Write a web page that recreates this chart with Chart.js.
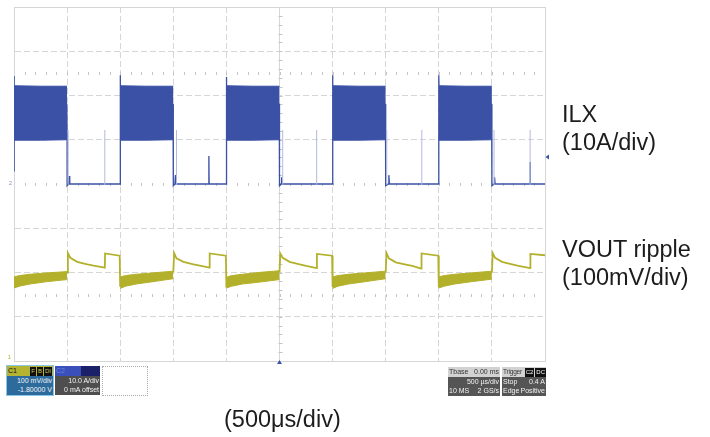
<!DOCTYPE html>
<html>
<head>
<meta charset="utf-8">
<script src="https://cdn.jsdelivr.net/npm/chart.js@4.4.0/dist/chart.umd.min.js"></script>
<style>
  body { margin: 0; background: #fff; font-family: "Liberation Sans", Arial, sans-serif; }
  #page { position: relative; width: 710px; height: 437px; overflow: hidden; }
  #scope { position: absolute; left: 0; top: 0; }
  .lbl { position: absolute; font-size: 23.5px; line-height: 28px; color: #1c1c1c; white-space: nowrap; }
  .box { position: absolute; font-family: "Liberation Sans Narrow", "Liberation Sans", sans-serif;
         font-size: 7px; line-height: 9px; color: #f4f4f4; overflow: hidden; white-space: nowrap; }
  .hd { height: 10px; line-height: 10px; padding: 0 1px; position: relative; }
  .row { height: 9px; padding: 0 1px; display: flex; justify-content: space-between; }
  .r { text-align: right; padding: 0 1px; height: 9px; }
  .tag { display: inline-block; background: #111; padding: 0 1px; margin-left: 1px; line-height: 9px; font-size: 6px; }
</style>
</head>
<body>
<div id="page">
  <canvas id="scope" width="710" height="437"></canvas>

  <div class="lbl" style="left:562px; top:100px;">ILX<br>(10A/div)</div>
  <div class="lbl" style="left:562px; top:235px;">VOUT ripple<br>(100mV/div)</div>
  <div class="lbl" style="left:224px; top:405px;">(500μs/div)</div>

  <div class="box" style="left:7px; top:366px; width:46px; height:29px; background:#2c6b9c; outline:1px solid #8cc6e6;">
    <div class="hd" style="background:#b4b332; color:#111;">C1<span style="position:absolute; right:1px; top:0; color:#c9c85a;"><span class="tag">F</span><span class="tag">B</span><span class="tag">DI</span></span></div>
    <div class="r">100 mV/div</div>
    <div class="r">-1.80000 V</div>
  </div>
  <div class="box" style="left:55px; top:366px; width:45px; height:29px; background:#4e4e4e;">
    <div class="hd" style="background:#3b4fba; color:#6f80dc;">C2<span style="position:absolute; right:0; top:0; width:19px; height:10px; background:#1b2168;"></span></div>
    <div class="r">10.0 A/div</div>
    <div class="r">0 mA offset</div>
  </div>
  <div class="box" style="left:102px; top:366px; width:44px; height:28px; border:1px dotted #aaa;"></div>

  <div class="box" style="left:448px; top:367px; width:52px; height:29px; background:#555;">
    <div class="hd" style="background:#d2d2d2; color:#333; display:flex; justify-content:space-between;"><span>Tbase</span><span>0.00 ms</span></div>
    <div class="r">500 µs/div</div>
    <div class="row"><span>10 MS</span><span>2 GS/s</span></div>
  </div>
  <div class="box" style="left:502px; top:367px; width:44px; height:29px; background:#555;">
    <div class="hd" style="background:#d2d2d2; color:#333; font-size:6.5px; letter-spacing:-0.2px;">Trigger<span style="position:absolute; right:0; top:0; color:#fff; letter-spacing:0;"><span class="tag">C2</span><span class="tag">DC</span></span></div>
    <div class="row"><span>Stop</span><span>0.4 A</span></div>
    <div class="row"><span>Edge</span><span>Positive</span></div>
  </div>
</div>

<script>
// screen units: x in divisions (0..10, 500 us/div), y in divisions (0 = bottom, 8 = top)
const xDivs = 10;
const yDivs = 8;
const minorTickRows = [6.5, 4, 1.5];

// ILX trace (blue)
const ilxT = [0, 0, 0.005, 0.995, 1.0, 1.0, 1.03, 1.04, 1.05, 2.0,
              2.0, 2.005, 2.995, 3.0, 3.0, 3.03, 3.04, 3.05, 3.67, 3.67, 3.675, 4.0,
              4.0, 4.005, 4.995, 5.0, 5.0, 5.03, 5.04, 5.05, 6.0,
              6.0, 6.005, 6.995, 7.0, 7.0, 7.05, 7.06, 7.07, 8.0,
              8.0, 8.005, 8.995, 9.0, 9.0, 9.04, 9.05, 9.06, 9.72, 9.72, 9.725, 10];
const ilxV = [4.3, 6.44, 6.1, 5.8, 5.0, 3.96, 4.0, 4.18, 4.0, 4.0,
              6.46, 6.1, 5.8, 5.0, 3.96, 4.0, 4.2, 4.0, 4.0, 4.63, 4.0, 4.0,
              6.42, 6.1, 5.8, 5.0, 3.96, 4.0, 4.15, 4.0, 4.0,
              6.46, 6.1, 5.8, 5.0, 3.96, 4.0, 4.2, 4.0, 4.0,
              6.46, 6.1, 5.8, 5.0, 3.96, 4.0, 4.15, 4.0, 4.0, 4.5, 4.0, 4.0];

// ILX switching band (filled between top and bottom), null = gap
const ilxBandT      = [0, 0.5, 1, 1.5, 2, 2.5, 3, 3.5, 4, 4.5, 5, 5.5, 6, 6.5, 7, 7.5, 8, 8.5, 9];
const ilxBandTop    = [6.22, 6.21, 6.21, null, 6.22, 6.21, 6.21, null, 6.22, 6.21, 6.21, null, 6.22, 6.21, 6.21, null, 6.22, 6.21, 6.21];
const ilxBandBottom = [4.99, 4.99, 5.0, null, 4.99, 4.99, 5.0, null, 4.99, 4.99, 5.0, null, 4.99, 4.99, 5.0, null, 4.99, 4.99, 5.0];

// faint ringing spikes during the off time
const ilxSpikeT   = [1.02, 1.71, 3.06, 5.06, 5.70, 7.02, 7.68, 9.04, 9.72];
const ilxSpikeTop = [5.22, 5.22, 5.22, 5.22, 5.22, 5.22, 5.22, 5.22, 5.22];

// VOUT ripple band while ILX is switching (yellow)
const voutBandT = [0, 0.1, 0.3, 0.6, 1.0, 1.5,
                   2.0, 2.1, 2.3, 2.6, 3.0, 3.5,
                   4.0, 4.1, 4.3, 4.6, 5.0, 5.5,
                   6.0, 6.1, 6.3, 6.6, 7.0, 7.5,
                   8.0, 8.1, 8.3, 8.6, 9.0];
const voutBandTop = [1.90, 1.93, 1.96, 1.99, 2.02, null,
                     1.90, 1.93, 1.96, 1.99, 2.03, null,
                     1.89, 1.93, 1.96, 2.00, 2.04, null,
                     1.90, 1.93, 1.96, 1.99, 2.03, null,
                     1.90, 1.93, 1.96, 1.99, 2.03];
const voutBandBottom = [1.65, 1.69, 1.74, 1.79, 1.84, null,
                        1.64, 1.69, 1.74, 1.79, 1.86, null,
                        1.65, 1.69, 1.74, 1.78, 1.84, null,
                        1.64, 1.69, 1.74, 1.79, 1.86, null,
                        1.65, 1.69, 1.74, 1.79, 1.85];

// VOUT during the off time: overshoot, decay, step
const voutT = [1.0, 1.015, 1.06, 1.19, 1.38, 1.5, 1.71, 1.715, 1.99, 2.0, null,
               3.0, 3.015, 3.06, 3.19, 3.38, 3.5, 3.68, 3.685, 3.99, 4.0, null,
               5.0, 5.015, 5.06, 5.19, 5.38, 5.5, 5.70, 5.705, 5.99, 6.0, null,
               7.0, 7.015, 7.06, 7.19, 7.38, 7.5, 7.67, 7.675, 7.99, 8.0, null,
               9.0, 9.015, 9.06, 9.19, 9.38, 9.5, 9.72, 9.725, 10];
const voutV = [2.0, 2.44, 2.33, 2.24, 2.185, 2.155, 2.11, 2.43, 2.38, 1.68, null,
               2.0, 2.44, 2.32, 2.24, 2.185, 2.155, 2.11, 2.43, 2.38, 1.66, null,
               2.0, 2.43, 2.33, 2.24, 2.185, 2.15, 2.10, 2.42, 2.38, 1.67, null,
               2.0, 2.44, 2.32, 2.23, 2.18, 2.15, 2.09, 2.43, 2.38, 1.66, null,
               2.0, 2.44, 2.33, 2.24, 2.185, 2.15, 2.10, 2.42, 2.39];

const trigLevel = 4.61;

const BLUE = "#3a51a5";
const YELLOW = "#b3b12b";

function pts(ts, vs) {
  return ts.map((t, i) => ({ x: t === null ? (ts[i - 1] + 0.001) : t, y: vs[i] }));
}
const spikePts = [];
ilxSpikeT.forEach((t, i) => {
  spikePts.push({ x: t, y: 3.98 }, { x: t, y: ilxSpikeTop[i] }, { x: t + 0.0001, y: null });
});

const scopeMarks = {
  id: "scopeMarks",
  beforeDatasetsDraw(chart) {
    const { ctx, scales: { x, y } } = chart;
    ctx.save();
    ctx.strokeStyle = "#c4c4c4";
    ctx.lineWidth = 1;
    ctx.beginPath();
    minorTickRows.forEach(row => {
      const py = Math.round(y.getPixelForValue(row)) + 0.5;
      for (let i = 1; i < xDivs * 5; i++) {
        const px = Math.round(x.getPixelForValue(i / 5)) + 0.5;
        ctx.moveTo(px, py - 1.5); ctx.lineTo(px, py + 1.5);
      }
    });
    const cx = Math.round(x.getPixelForValue(xDivs / 2)) + 0.5;
    for (let i = 1; i < yDivs * 5; i++) {
      const py = Math.round(y.getPixelForValue(i / 5)) + 0.5;
      ctx.moveTo(cx - 2, py); ctx.lineTo(cx + 2, py);
    }
    ctx.stroke();
    ctx.restore();
  },
  afterDatasetsDraw(chart) {
    const { ctx, scales: { x, y } } = chart;
    ctx.save();
    // trigger level arrow (right edge)
    const ty = y.getPixelForValue(trigLevel);
    const rx = x.getPixelForValue(xDivs);
    ctx.fillStyle = BLUE;
    ctx.beginPath();
    ctx.moveTo(rx + 0.5, ty); ctx.lineTo(rx + 4, ty - 2.5); ctx.lineTo(rx + 4, ty + 2.5);
    ctx.fill();
    // trigger time marker (bottom)
    const bx = x.getPixelForValue(xDivs / 2);
    const by = y.getPixelForValue(0);
    ctx.beginPath();
    ctx.moveTo(bx, by - 1); ctx.lineTo(bx - 2.5, by + 3); ctx.lineTo(bx + 2.5, by + 3);
    ctx.fill();
    // channel ground markers (left edge)
    ctx.font = "6px 'Liberation Sans'";
    ctx.textAlign = "right";
    ctx.textBaseline = "middle";
    ctx.fillStyle = "#8a93c8";
    ctx.fillText("2", x.getPixelForValue(0) - 2, y.getPixelForValue(4) - 1);
    ctx.fillStyle = YELLOW;
    ctx.fillText("1", x.getPixelForValue(0) - 3, y.getPixelForValue(0.08));
    ctx.restore();
  }
};

function dashFor(max, center) {
  return c => {
    if (!c.tick) return [];
    const v = c.tick.value;
    return (v === 0 || v === max || v === center) ? [] : [6, 3];
  };
}

new Chart(document.getElementById("scope").getContext("2d"), {
  type: "line",
  data: {
    datasets: [
      { label: "ILX band top", data: pts(ilxBandT, ilxBandTop), borderColor: BLUE, backgroundColor: BLUE,
        borderWidth: 1, fill: "+1", spanGaps: false },
      { label: "ILX band bottom", data: pts(ilxBandT, ilxBandBottom), borderColor: BLUE,
        borderWidth: 1, fill: false, spanGaps: false },
      { label: "ILX spikes", data: spikePts, borderColor: "#b4bade", borderWidth: 1, fill: false, spanGaps: false },
      { label: "ILX", data: pts(ilxT, ilxV), borderColor: BLUE, borderWidth: 1.3, fill: false },
      { label: "VOUT band top", data: pts(voutBandT, voutBandTop), borderColor: YELLOW, backgroundColor: YELLOW,
        borderWidth: 1, fill: "+1", spanGaps: false },
      { label: "VOUT band bottom", data: pts(voutBandT, voutBandBottom), borderColor: YELLOW,
        borderWidth: 1, fill: false, spanGaps: false },
      { label: "VOUT", data: pts(voutT, voutV), borderColor: YELLOW, borderWidth: 1.8, fill: false, spanGaps: false }
    ]
  },
  options: {
    responsive: false,
    animation: false,
    events: [],
    layout: { padding: { left: 14, top: 7, right: 165, bottom: 76 } },
    elements: { point: { radius: 0 }, line: { tension: 0, borderJoinStyle: "miter" } },
    plugins: { legend: { display: false }, tooltip: { enabled: false } },
    scales: {
      x: {
        type: "linear", min: 0, max: xDivs,
        ticks: { display: false, stepSize: 1 },
        grid: { drawTicks: false, color: "#d6d6d6", lineWidth: 1 },
        border: { display: true, color: "#d6d6d6", dash: dashFor(xDivs, xDivs / 2) }
      },
      y: {
        type: "linear", min: 0, max: yDivs,
        ticks: { display: false, stepSize: 1 },
        grid: { drawTicks: false, lineWidth: 1,
                color: c => (c.tick && c.tick.value === yDivs / 2) ? "rgba(0,0,0,0)" : "#d6d6d6" },
        border: { display: true, color: "#d6d6d6", dash: dashFor(yDivs, -1) }
      }
    }
  },
  plugins: [scopeMarks]
});
</script>
</body>
</html>
